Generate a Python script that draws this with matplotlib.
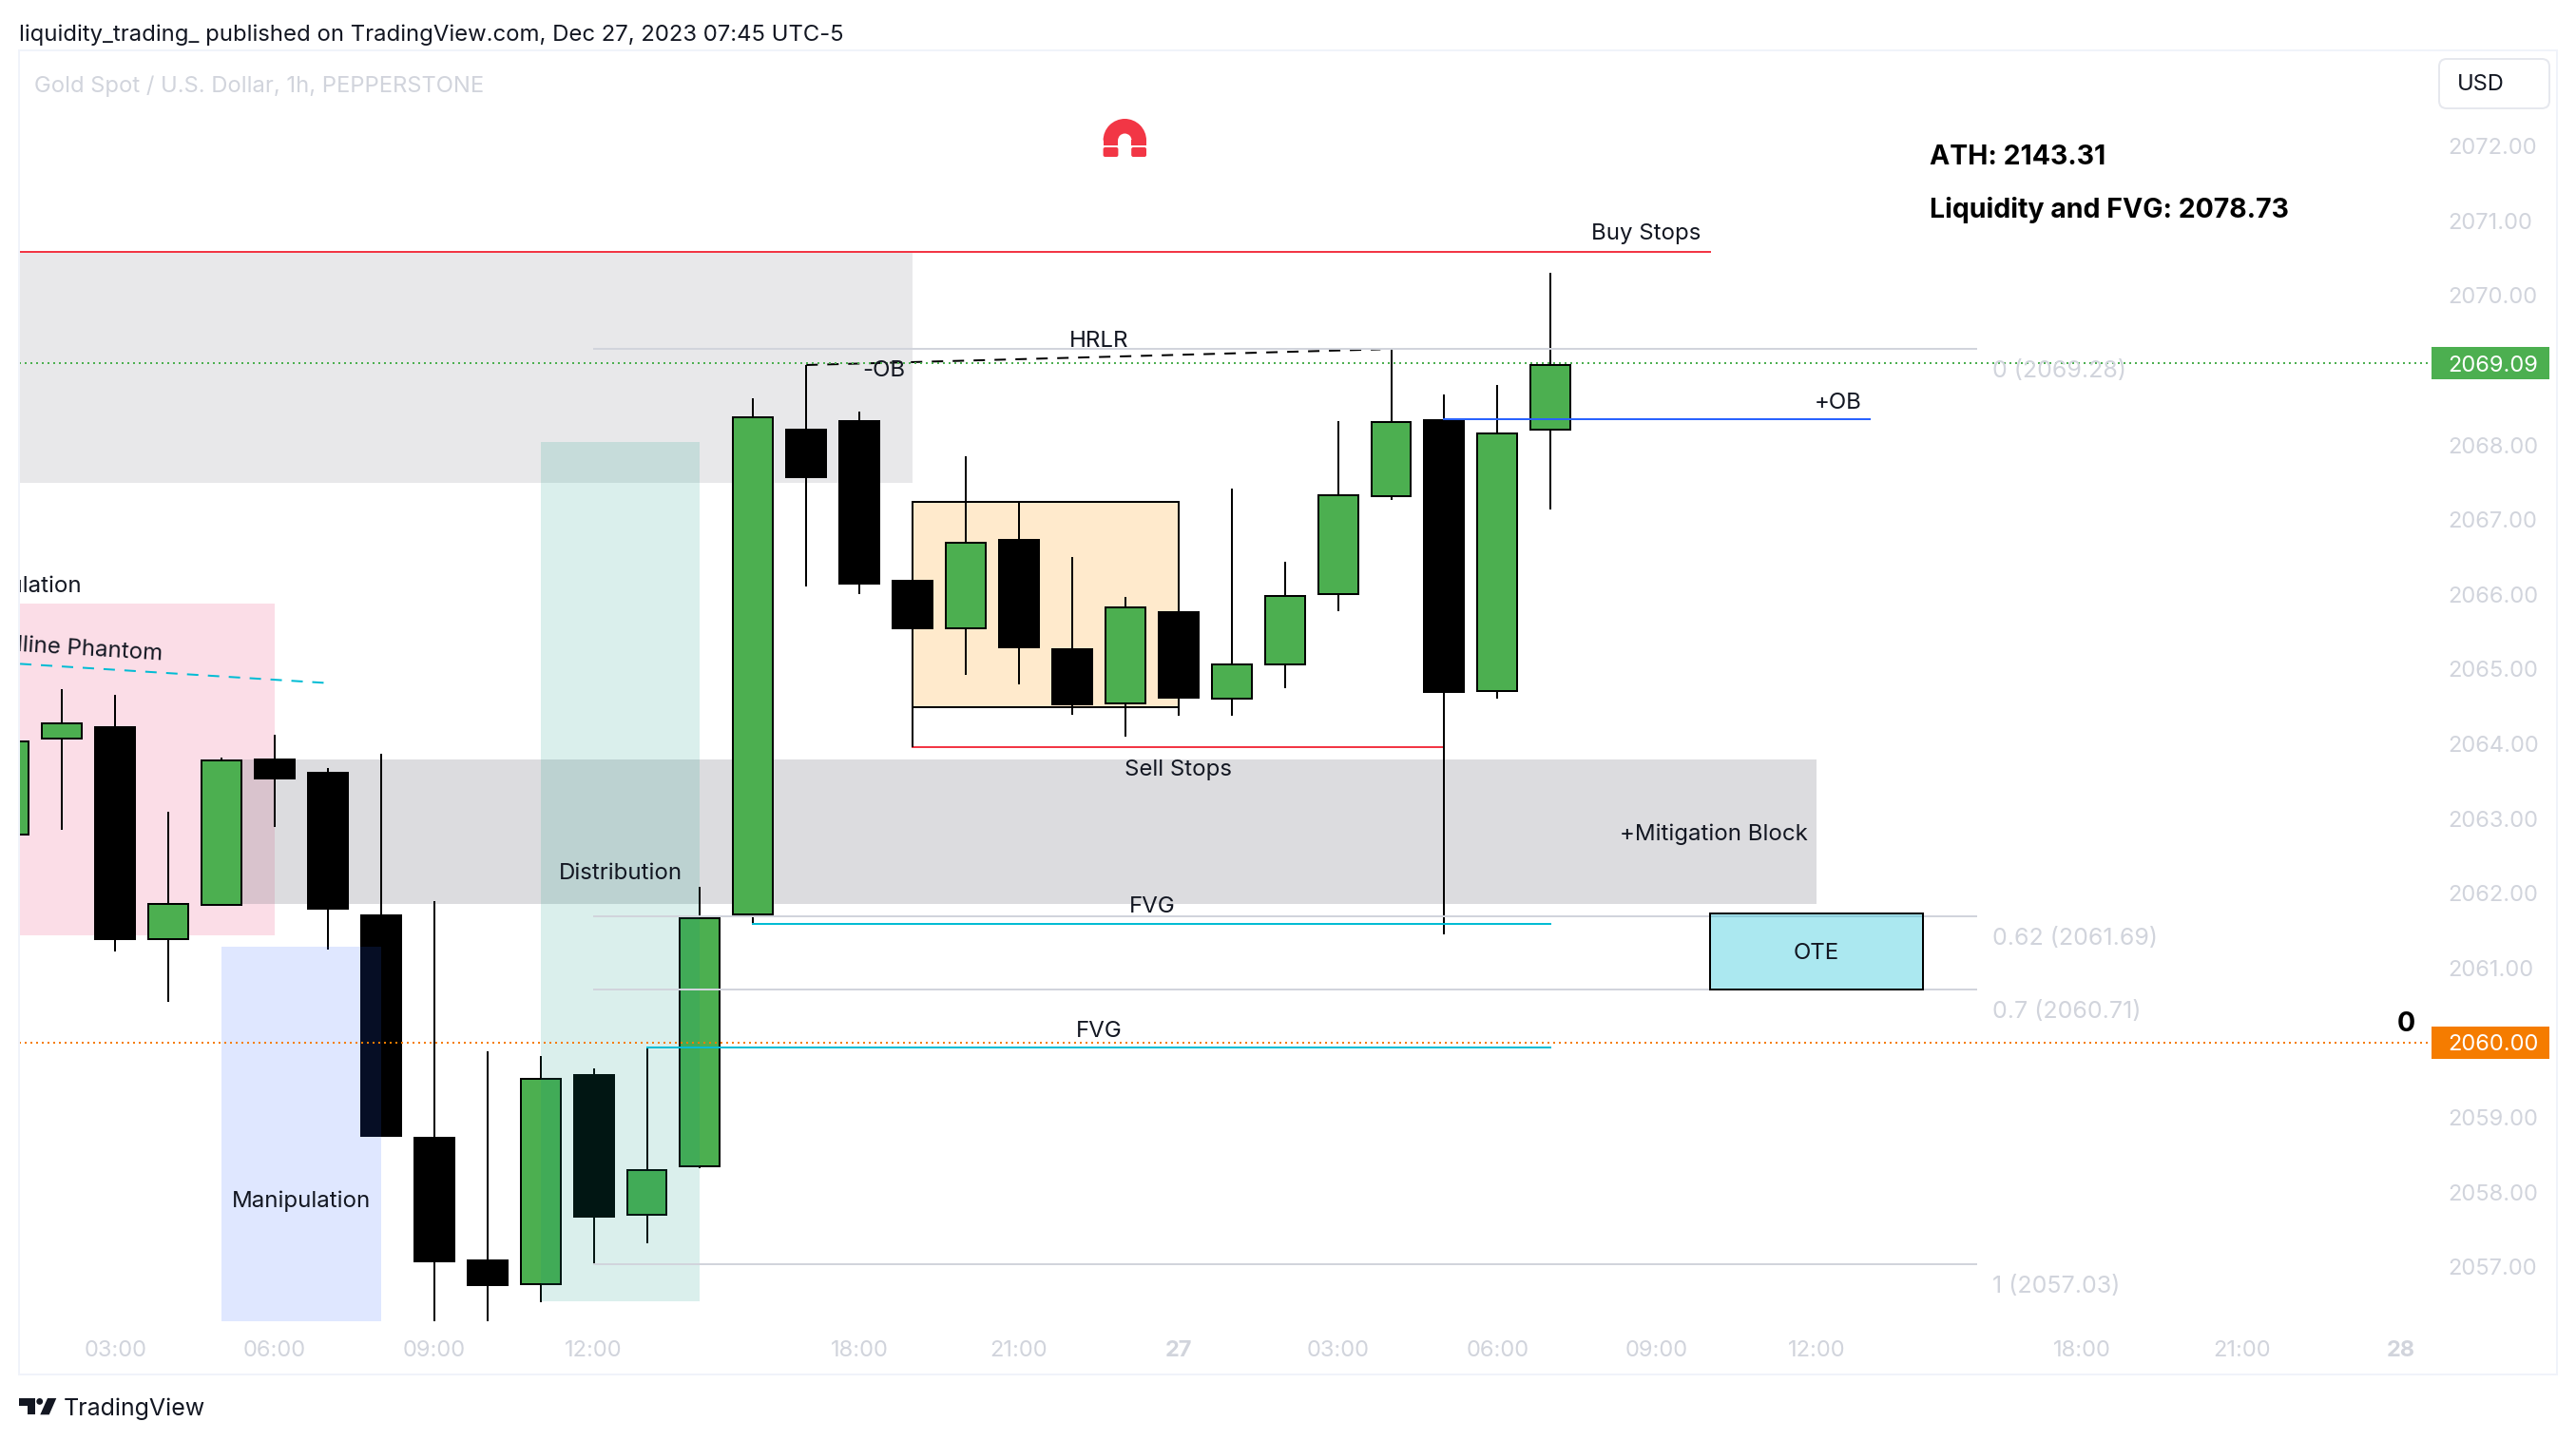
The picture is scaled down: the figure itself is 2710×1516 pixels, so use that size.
import matplotlib
matplotlib.use('Agg')
import matplotlib.pyplot as plt
from matplotlib.patches import Rectangle, Wedge, Polygon, Circle, FancyBboxPatch

plt.rcParams['font.family'] = ['Inter', 'DejaVu Sans']

# candles, index 0 is the 03:00 bar
bar_index = list(range(-2, 28))
opens = [2062.78, 2064.07, 2064.22, 2061.38, 2061.84, 2063.79, 2063.61, 2061.70, 2058.73, 2057.09,
         2056.77, 2059.57, 2057.70, 2058.34, 2061.72, 2068.20, 2068.32, 2066.18, 2065.54, 2066.73,
         2065.26, 2064.54, 2065.76, 2064.61, 2065.06, 2066.00, 2067.32, 2068.33, 2064.70, 2068.21]
closes = [2064.03, 2064.27, 2061.39, 2061.85, 2063.78, 2063.54, 2061.79, 2058.75, 2057.07, 2056.75,
          2059.51, 2057.67, 2058.30, 2061.67, 2068.37, 2067.57, 2066.14, 2065.54, 2066.69, 2065.29,
          2064.53, 2065.82, 2064.62, 2065.06, 2065.98, 2067.33, 2068.31, 2064.69, 2068.15, 2069.07]
highs = [2064.03, 2064.73, 2064.65, 2063.09, 2063.81, 2064.12, 2063.67, 2063.87, 2061.89, 2059.88,
         2059.82, 2059.66, 2059.93, 2062.08, 2068.63, 2069.07, 2068.45, 2066.18, 2067.85, 2067.24,
         2066.50, 2065.97, 2065.76, 2067.41, 2066.44, 2068.32, 2069.27, 2068.67, 2068.80, 2070.30]
lows = [2062.78, 2062.85, 2061.22, 2060.55, 2061.84, 2062.89, 2061.24, 2058.75, 2056.27, 2056.27,
        2056.53, 2057.04, 2057.32, 2058.32, 2061.59, 2066.10, 2066.01, 2063.95, 2064.92, 2064.80,
        2064.39, 2064.10, 2064.38, 2064.38, 2064.75, 2065.78, 2067.26, 2061.45, 2064.61, 2067.13]

# axis labels
price_ticks = [2057, 2058, 2059, 2061, 2062, 2063, 2064, 2065, 2066, 2067, 2068, 2070, 2071, 2072]
time_ticks = [0, 3, 6, 9, 14, 17, 20, 23, 26, 29, 32, 37, 40, 43]
time_labels = ['03:00', '06:00', '09:00', '12:00', '18:00', '21:00', '27',
               '03:00', '06:00', '09:00', '12:00', '18:00', '21:00', '28']
bold_times = ['27', '28']

# fib levels
fib_levels = [2069.28, 2061.69, 2060.71, 2057.03]
fib_labels = ['0 (2069.28)', '0.62 (2061.69)', '0.7 (2060.71)', '1 (2057.03)']

last_price = 2069.09
alert_price = 2060.00

GREEN = '#4caf50'
GREY_TXT = '#d1d4dc'
DARK = '#131722'

W, H = 2710, 1516
L, R, T, B = 20.4, 2557, 53, 1389.7
X0, DX = 121.2, 55.93
Y0, DY = 153.7, 78.6
PX = 0.72  # 1 px in points at dpi 100
DOTS = (0, (1, 2))
DASHES = (0, (6, 5))

fig = plt.figure(figsize=(W / 100, H / 100), dpi=100, facecolor='white')
ax = fig.add_axes([L / W, 1 - B / H, (R - L) / W, (B - T) / H])
ax.set_xlim((L - X0) / DX, (R - X0) / DX)
ax.set_ylim(2072 - (B - Y0) / DY, 2072 + (Y0 - T) / DY)
for s in ax.spines.values():
    s.set_visible(False)

# boxes behind the candles
ax.add_patch(Rectangle((-4, 2067.49), 19, 3.10, fc='#787b86', alpha=0.17, lw=0, zorder=1))
ax.add_patch(Rectangle((-4, 2061.44), 7, 4.44, fc='#e91e63', alpha=0.15, lw=0, zorder=1))
ax.add_patch(Rectangle((2, 2061.86), 30, 1.93, fc='#787b86', alpha=0.26, lw=0, zorder=1.1))
ax.add_patch(Rectangle((15, 2064.49), 5, 2.75, fc='#ff9800', ec='none', alpha=0.2, zorder=1.2))
ax.add_patch(Rectangle((15, 2064.49), 5, 2.75, fc='none', ec='black', lw=2 * PX, zorder=1.3))

# lines
ax.plot([-3, 30], [2070.59, 2070.59], color='#f23645', lw=2 * PX, zorder=2)
ax.plot([15, 25], [2063.95, 2063.95], color='#f23645', lw=2 * PX, zorder=2)
ax.plot([25, 33], [2068.34, 2068.34], color='#2962ff', lw=2 * PX, zorder=5)
ax.plot([12, 27], [2061.59, 2061.59], color='#00bcd4', lw=2 * PX, zorder=5)
ax.plot([10, 27], [2059.93, 2059.93], color='#00bcd4', lw=2 * PX, zorder=5)
ax.plot([-1.79, 3.95], [2065.07, 2064.815], color='#00bcd4', lw=2 * PX, ls=DASHES, zorder=5)
ax.plot([13, 23.8], [2069.07, 2069.28], color='black', lw=2 * PX, ls=DASHES, zorder=2.5)

# candles
up = [c >= o for o, c in zip(opens, closes)]
ax.vlines(bar_index, lows, highs, color='black', lw=2 * PX, zorder=3)
for x, o, c, u in zip(bar_index, opens, closes, up):
    ax.bar(x, abs(c - o), bottom=min(o, c), width=0.75, color=GREEN if u else 'black',
           edgecolor='black', linewidth=2 * PX, zorder=3.1)

# boxes over the candles
ax.add_patch(Rectangle((8, 2056.54), 3, 11.5, fc='#089981', alpha=0.15, lw=0, zorder=4))
ax.add_patch(Rectangle((2, 2056.0), 3, 5.29, fc='#2962ff', alpha=0.15, lw=0, zorder=4))

# fib lines
for lev, lab in zip(fib_levels, fib_labels):
    ax.plot([9, 35], [lev, lev], color=GREY_TXT, lw=2 * PX, zorder=5)
    ax.annotate(lab, (35.3, lev), xytext=(0, -23 * PX), textcoords='offset points', color=GREY_TXT,
                fontsize=18, va='center', ha='left', zorder=7)

ax.add_patch(Rectangle((30, 2060.71), 4, 1.02, fc='#00bcd4', ec='none', alpha=0.33, zorder=6))
ax.add_patch(Rectangle((30, 2060.71), 4, 1.02, fc='none', ec='black', lw=2 * PX, zorder=6.1))

# price lines
ax.axhline(last_price, color=GREEN, lw=2 * PX, ls=DOTS, zorder=6.5)
ax.axhline(alert_price, color='#f57c00', lw=2 * PX, ls=DOTS, zorder=6.5)

# drawing labels
LAB = dict(fontsize=17.3, color=DARK, va='center', zorder=7, clip_on=True)
ax.text(28.8, 2070.82, 'Buy Stops', ha='center', **LAB)
ax.text(18.5, 2069.39, 'HRLR', ha='center', **LAB)
ax.text(14.46, 2069.00, '-OB', ha='center', **LAB)
ax.text(32.85, 2068.56, '+OB', ha='right', **LAB)
ax.text(20, 2063.655, 'Sell Stops', ha='center', **LAB)
ax.text(31.84, 2062.79, '+Mitigation Block', ha='right', **LAB)
ax.text(19.5, 2061.82, 'FVG', ha='center', **LAB)
ax.text(18.5, 2060.15, 'FVG', ha='center', **LAB)
ax.text(32, 2061.19, 'OTE', ha='center', **LAB)
ax.text(9.5, 2062.26, 'Distribution', ha='center', **LAB)
ax.text(3.5, 2057.88, 'Manipulation', ha='center', **LAB)
ax.text(-0.636, 2066.10, 'Accumulation', ha='right', **LAB)
ax.text(0.90, 2065.20, 'Trendline Phantom', ha='right', rotation=-3.6, rotation_mode='anchor', **LAB)
ax.text(34.12, 2071.85, 'ATH: 2143.31', ha='left', va='center', fontsize=20.5, fontweight='bold', color='black', zorder=7)
ax.text(34.12, 2071.14, 'Liquidity and FVG: 2078.73', ha='left', va='center', fontsize=20.5, fontweight='bold', color='black', zorder=7)
ax.text(43.1, 2060.25, '0', ha='center', va='center', fontsize=20.5, fontweight='bold', color='black', zorder=7)

# axes
ax.yaxis.tick_right()
ax.set_yticks(price_ticks)
ax.set_yticklabels(['%.2f' % p for p in price_ticks])
ax.tick_params(axis='y', length=0, pad=18 * PX, labelsize=17, labelcolor=GREY_TXT)
ax.set_xticks(time_ticks)
ax.set_xticklabels(time_labels)
ax.tick_params(axis='x', length=0, pad=20 * PX, labelsize=17, labelcolor=GREY_TXT)
for t in ax.get_xticklabels():
    if t.get_text() in bold_times:
        t.set_fontweight('bold')

# price tags on the scale
tr = ax.get_yaxis_transform()
for price, col in [(last_price, GREEN), (alert_price, '#f57c00')]:
    ax.add_patch(Rectangle((1.0003, price - 0.216), 124 / (R - L), 0.432, fc=col, ec='none',
                           transform=tr, clip_on=False, zorder=8))
    ax.text((2622.7 - L) / (R - L), price, '%.2f' % price, color='white', fontsize=17, ha='center',
            va='center_baseline', transform=tr, clip_on=False, zorder=9)

# page furniture in pixel coordinates
page = fig.add_axes([0, 0, 1, 1], facecolor='none')
page.set_xlim(0, W)
page.set_ylim(H, 0)
page.axis('off')
page.add_patch(Rectangle((20.4, 53), 2669.3, 1392.6, fc='none', ec='#f0f3fa', lw=2 * PX))
page.text(20, 37, 'liquidity_trading_ published on TradingView.com, Dec 27, 2023 07:45 UTC-5',
          fontsize=17.2, color=DARK, va='center')
page.text(36.4, 91, 'Gold Spot / U.S. Dollar, 1h, PEPPERSTONE', fontsize=17.1, color=GREY_TXT, va='center')
page.add_patch(FancyBboxPatch((2570, 66), 108, 44, boxstyle='round,pad=4,rounding_size=8',
                              fc='white', ec='#e6e8ee', lw=2 * PX))
page.text(2584.7, 89, 'USD', fontsize=17, color=DARK, va='center')

# magnet icon
RED = '#f23645'
page.add_patch(Wedge((1183.3, 147.7), 22.7, 180, 360, width=15.5, fc=RED, ec='none'))
page.add_patch(Rectangle((1160.6, 147), 15.8, 5.7, fc=RED, ec='none'))
page.add_patch(Rectangle((1190.2, 147), 15.8, 5.7, fc=RED, ec='none'))
page.add_patch(FancyBboxPatch((1162.6, 157), 11.8, 6, boxstyle='round,pad=2,rounding_size=2', fc=RED, ec='none'))
page.add_patch(FancyBboxPatch((1192.2, 157), 11.8, 6, boxstyle='round,pad=2,rounding_size=2', fc=RED, ec='none'))

# TradingView logo
page.add_patch(Polygon([(20, 1471), (36.7, 1471), (36.7, 1488.3), (29, 1488.3), (29, 1478.5), (20, 1478.5)], fc=DARK, ec='none'))
page.add_patch(Circle((41.7, 1474.4), 3.4, fc=DARK, ec='none'))
page.add_patch(Polygon([(50, 1471), (59.3, 1471), (51.7, 1488.3), (42.3, 1488.3)], fc=DARK, ec='none'))
page.text(67, 1482, 'TradingView', fontsize=18, color=DARK, va='center')

fig.savefig('out.png', dpi=100)
